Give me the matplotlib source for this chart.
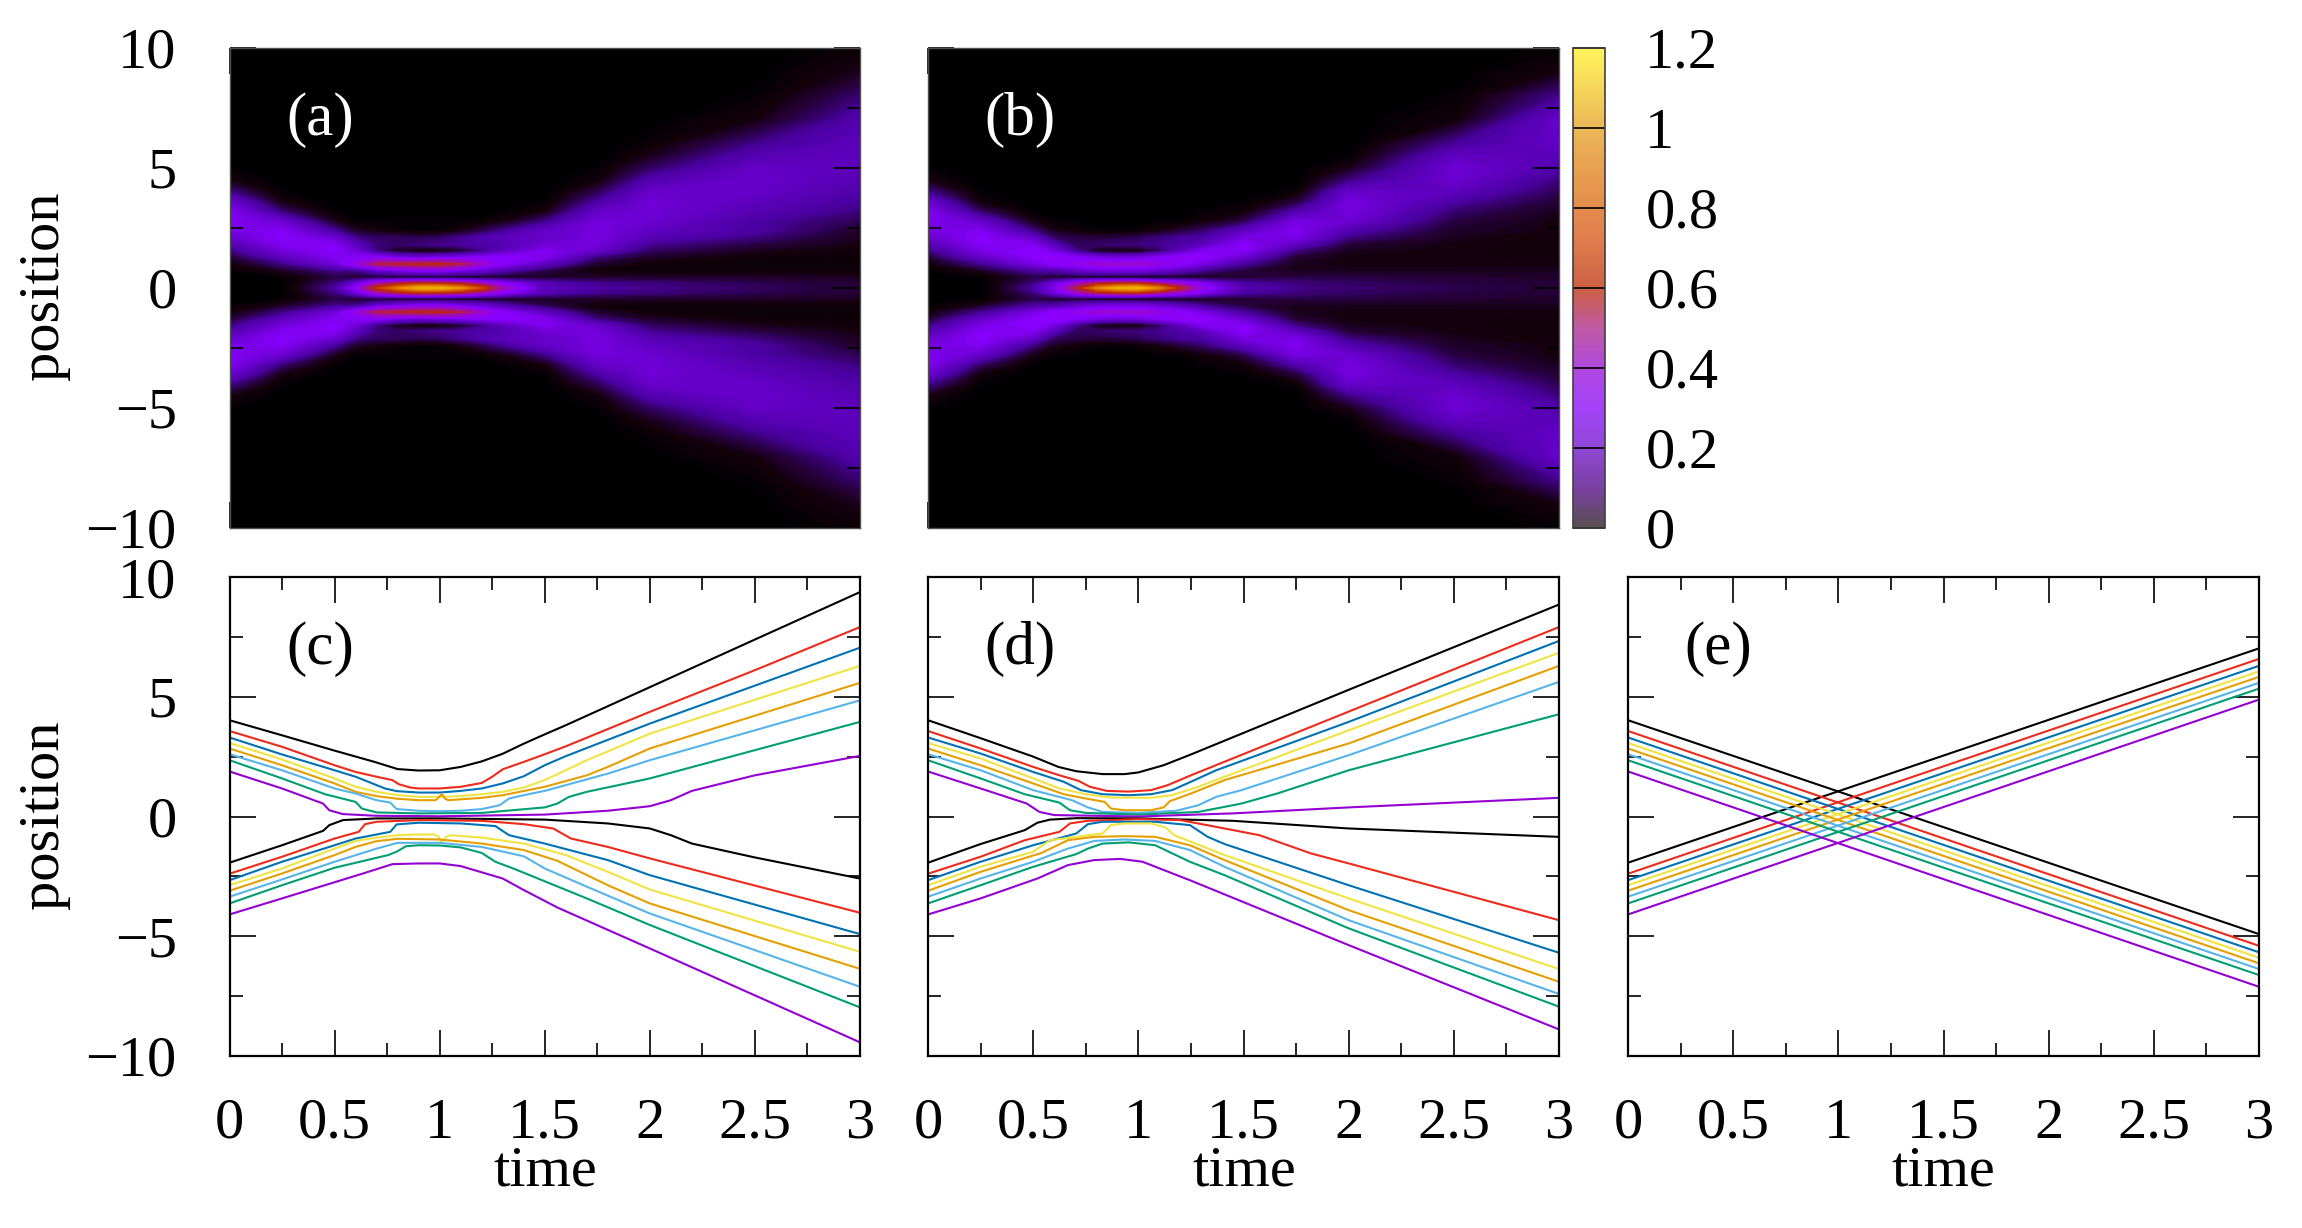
import numpy as np
import matplotlib
matplotlib.use('Agg')
import matplotlib.pyplot as plt
from matplotlib.colors import LinearSegmentedColormap, Normalize
from matplotlib.cm import ScalarMappable

plt.rcParams['font.family'] = ['Liberation Serif', 'DejaVu Serif']

# density maps, upper half only (the maps are almost symmetric)
heat_t = [0, 0.25, 0.5, 0.6, 0.7, 0.8, 0.9, 1, 1.1, 1.2, 1.3, 1.5, 1.75, 2, 2.5, 3]
heat_y = [0, 0.2, 0.45, 0.7, 1, 1.3, 1.55, 1.8, 2.1, 2.4, 2.8, 3.2, 3.6, 4, 4.5, 5, 5.5, 6, 7, 8, 9, 10]

heat_a = [
    [0, 0, 0, .01, .03, .07, .12, .17, .23, .27, .30, .30, .24, .13, .04, .01],
    [0, 0, .01, .05, .12, .20, .26, .30, .32, .31, .23, .11, .04, .01],
    [.15, .12, .08, .12, .25, .30, .32, .31, .24, .14, .05, .01],
    [.35, .25, .06, .12, .38, .32, .25, .20, .13, .06, .01],
    [.65, .45, .06, .20, .55, .30, .12, .12, .10, .04, .01],
    [.85, .55, .05, .25, .58, .25, .05, .10, .10, .02, .01],
    [1.0, .62, .04, .28, .60, .22, .03, .12, .09, .01, .01],
    [1.02, .60, .04, .30, .60, .25, .03, .13, .10, .01, .01],
    [.90, .55, .04, .25, .55, .27, .06, .14, .13, .04, .01],
    [.70, .45, .04, .22, .42, .30, .12, .16, .17, .08, .02],
    [.45, .33, .05, .16, .32, .32, .20, .17, .20, .13, .04, .01],
    [.20, .18, .06, .08, .20, .30, .30, .25, .22, .22, .12, .04, .01],
    [.15, .13, .06, .03, .06, .12, .22, .26, .27, .27, .26, .22, .15, .09, .03, .01],
    [.13, .12, .06, .03, .03, .06, .10, .13, .18, .21, .24, .25, .25, .23, .17, .10, .05, .02],
    [.10, .09, .06, .03, .02, .03, .05, .08, .12, .15, .15, .18, .20, .22, .23, .22, .18, .13, .04, .01],
    [.07, .07, .05, .03, .02, .02, .03, .04, .05, .06, .09, .12, .14, .16, .18, .19, .20, .20, .17, .11, .05, .02],
]
heat_b = [
    [0, 0, 0, .01, .03, .07, .12, .17, .23, .27, .30, .30, .24, .13, .04, .01],
    [0, 0, .01, .05, .13, .22, .28, .31, .32, .30, .22, .10, .03, .01],
    [.15, .12, .08, .14, .27, .32, .33, .30, .22, .12, .04, .01],
    [.30, .25, .06, .15, .33, .34, .27, .19, .10, .05, .01],
    [.55, .42, .05, .20, .36, .30, .14, .10, .08, .03, .01],
    [.85, .55, .04, .24, .40, .26, .05, .10, .08, .01],
    [1.0, .60, .03, .25, .42, .23, .03, .12, .08, .01],
    [1.03, .60, .03, .25, .42, .25, .03, .12, .09, .02],
    [.85, .50, .03, .22, .38, .30, .10, .13, .12, .04, .01],
    [.60, .40, .04, .18, .33, .34, .20, .16, .14, .07, .01],
    [.38, .30, .05, .13, .27, .34, .30, .20, .15, .10, .03, .01],
    [.17, .15, .07, .07, .14, .24, .31, .32, .27, .20, .08, .03, .01],
    [.13, .12, .08, .05, .05, .07, .12, .20, .28, .30, .27, .16, .07, .02],
    [.11, .10, .08, .05, .04, .04, .05, .07, .12, .17, .24, .27, .27, .23, .12, .05, .01],
    [.09, .08, .07, .05, .04, .04, .04, .04, .05, .06, .08, .11, .15, .20, .24, .25, .21, .14, .03, .01],
    [.07, .07, .06, .05, .04, .03, .03, .03, .03, .04, .04, .05, .07, .09, .12, .16, .19, .22, .23, .13, .04, .01],
]

# trajectories of panel (c), (time, position)
c_up_black = [(0, 4.02), (.25, 3.39), (.5, 2.75), (.69, 2.28), (.8, 1.98), (.9, 1.92), (1, 1.93), (1.1, 2.07), (1.2, 2.30), (1.3, 2.62), (1.4, 3.04), (1.5, 3.43), (1.6, 3.81), (2, 5.40), (2.5, 7.39), (3, 9.37)]
c_up_red = [(0, 3.57), (.25, 2.91), (.5, 2.14), (.6, 1.86), (.7, 1.66), (.775, 1.52), (.805, 1.35), (.86, 1.21), (.9, 1.17), (1, 1.17), (1.1, 1.24), (1.2, 1.40), (1.25, 1.66), (1.3, 1.97), (1.4, 2.28), (1.5, 2.60), (1.6, 2.93), (2, 4.37), (2.5, 6.11), (3, 7.91)]
c_up_blue = [(0, 3.30), (.25, 2.59), (.5, 1.93), (.6, 1.66), (.68, 1.38), (.74, 1.17), (.795, 1.06), (.9, 1.00), (1, 1.00), (1.1, 1.07), (1.2, 1.17), (1.3, 1.38), (1.4, 1.68), (1.5, 2.14), (1.6, 2.52), (2, 3.88), (3, 7.05)]
c_up_yellow = [(0, 3.07), (.25, 2.38), (.5, 1.59), (.6, 1.24), (.7, 1.03), (.8, .89), (.9, .82), (1, .82), (1.1, .85), (1.2, .93), (1.3, 1.03), (1.4, 1.21), (1.5, 1.52), (1.6, 1.93), (1.7, 2.35), (2, 3.46), (3, 6.29)]
c_up_orange = [(0, 2.84), (.25, 2.14), (.5, 1.38), (.6, 1.03), (.7, .85), (.8, .74), (.9, .68), (.98, .68), (.99, .75), (1.01, .93), (1.025, .75), (1.04, .68), (1.2, .78), (1.3, .89), (1.5, 1.24), (1.7, 1.72), (1.8, 2.07), (2, 2.84), (3, 5.58)]
c_up_sky = [(0, 2.60), (.25, 1.93), (.5, 1.17), (.6, .96), (.7, .68), (.765, .58), (.795, .31), (.9, .24), (1, .22), (1.1, .24), (1.2, .31), (1.285, .47), (1.33, .75), (1.4, .89), (1.5, 1.07), (1.8, 1.79), (2, 2.35), (3, 4.85)]
c_up_green = [(0, 2.35), (.25, 1.59), (.455, .93), (.6, .61), (.63, .33), (.7, .17), (.9, .13), (1.2, .15), (1.5, .38), (1.56, .54), (1.615, .82), (1.7, 1.03), (2, 1.59), (3, 3.95)]
c_up_purple = [(0, 1.88), (.25, 1.17), (.445, .54), (.475, .26), (.54, .10), (.7, .03), (1, .01), (1.5, .08), (1.8, .24), (2, .43), (2.1, .68), (2.2, 1.07), (2.5, 1.72), (3, 2.53)]
c_lo_black = [(0, -1.93), (.25, -1.20), (.445, -.60), (.475, -.36), (.54, -.15), (.7, -.08), (1, -.08), (1.5, -.13), (1.8, -.29), (2, -.50), (2.1, -.78), (2.2, -1.13), (2.5, -1.71), (3, -2.59)]
c_lo_red = [(0, -2.39), (.25, -1.68), (.5, -.92), (.615, -.64), (.645, -.32), (.7, -.22), (.9, -.15), (1.2, -.18), (1.4, -.32), (1.54, -.50), (1.625, -.92), (1.8, -1.27), (2, -1.75), (3, -4.02)]
c_lo_blue = [(0, -2.66), (.25, -1.89), (.5, -1.20), (.6, -.92), (.765, -.64), (.795, -.33), (.9, -.26), (1.1, -.29), (1.265, -.40), (1.33, -.78), (1.5, -1.13), (1.8, -1.82), (2, -2.45), (3, -4.91)]
c_lo_yellow = [(0, -2.87), (.25, -2.17), (.5, -1.34), (.6, -1.02), (.7, -.88), (.8, -.78), (.9, -.75), (.975, -.75), (.995, -.85), (1.01, -1.10), (1.03, -.85), (1.05, -.78), (1.2, -.88), (1.4, -1.13), (1.6, -1.61), (1.8, -2.31), (2, -3.05), (3, -5.65)]
c_lo_orange = [(0, -3.10), (.25, -2.38), (.5, -1.61), (.6, -1.27), (.7, -1.03), (.8, -.93), (1, -.96), (1.2, -1.13), (1.4, -1.40), (1.56, -1.85), (1.8, -2.87), (2, -3.63), (3, -6.36)]
c_lo_sky = [(0, -3.35), (.25, -2.63), (.5, -1.89), (.7, -1.34), (.8, -1.10), (1, -1.10), (1.2, -1.27), (1.4, -1.66), (1.5, -2.17), (1.7, -2.93), (2, -4.05), (3, -7.11)]
c_lo_green = [(0, -3.63), (.25, -2.87), (.5, -2.14), (.755, -1.61), (.795, -1.47), (.84, -1.24), (.9, -1.20), (1, -1.21), (1.1, -1.29), (1.2, -1.52), (1.265, -1.89), (1.35, -2.17), (1.7, -3.42), (2, -4.53), (3, -7.97)]
c_lo_purple = [(0, -4.09), (.25, -3.42), (.635, -2.38), (.775, -1.99), (.9, -1.96), (1, -1.96), (1.1, -2.07), (1.3, -2.59), (1.4, -3.07), (1.56, -3.80), (2, -5.51), (3, -9.43)]

# trajectories of panel (d)
d_up_black = [(0, 4.02), (.25, 3.27), (.5, 2.50), (.62, 2.07), (.705, 1.89), (.83, 1.77), (.935, 1.77), (1, 1.84), (1.12, 2.14), (1.25, 2.59), (2, 5.29), (3, 8.85)]
d_up_red = [(0, 3.57), (.25, 2.84), (.5, 2.07), (.625, 1.72), (.715, 1.49), (.77, 1.24), (.85, 1.07), (.955, 1.04), (1.06, 1.10), (1.14, 1.31), (1.25, 1.72), (2, 4.38), (3, 7.91)]
d_up_blue = [(0, 3.30), (.25, 2.63), (.5, 1.86), (.645, 1.45), (.727, 1.10), (.83, .93), (.955, .89), (1.06, .93), (1.16, 1.10), (1.25, 1.45), (1.37, 1.93), (2, 3.95), (3, 7.33)]
d_up_yellow = [(0, 3.07), (.25, 2.42), (.5, 1.59), (.625, 1.17), (.75, .93), (.87, .79), (1.06, .78), (1.16, .89), (1.285, 1.24), (1.41, 1.66), (2, 3.60), (3, 6.84)]
d_up_orange = [(0, 2.84), (.25, 2.14), (.5, 1.38), (.645, .93), (.75, .75), (.84, .61), (.87, .33), (.935, .26), (1.06, .26), (1.12, .38), (1.15, .64), (1.25, .96), (1.41, 1.52), (2, 3.05), (3, 6.29)]
d_up_sky = [(0, 2.60), (.25, 1.93), (.5, 1.10), (.685, .68), (.76, .38), (.83, .19), (1, .15), (1.18, .24), (1.285, .47), (1.37, .82), (1.49, 1.10), (2, 2.56), (3, 5.62)]
d_up_green = [(0, 2.35), (.25, 1.59), (.46, .93), (.625, .58), (.675, .26), (.75, .15), (1, .08), (1.285, .19), (1.49, .54), (1.66, .96), (2, 1.93), (3, 4.27)]
d_up_purple = [(0, 1.88), (.25, 1.17), (.47, .54), (.53, .19), (.6, .06), (1, 0), (1.45, .13), (2, .38), (3, .78)]
d_lo_black = [(0, -1.93), (.25, -1.15), (.46, -.57), (.52, -.26), (.58, -.13), (.705, -.07), (1, -.08), (1.45, -.18), (2, -.50), (3, -.85)]
d_lo_red = [(0, -2.39), (.25, -1.68), (.46, -.99), (.625, -.64), (.675, -.29), (.76, -.18), (1, -.11), (1.2, -.15), (1.41, -.50), (1.575, -.78), (1.82, -1.54), (2, -1.96), (3, -4.33)]
d_lo_blue = [(0, -2.66), (.25, -1.89), (.5, -1.20), (.705, -.71), (.76, -.32), (.83, -.22), (1.08, -.22), (1.245, -.36), (1.33, -.85), (1.41, -1.15), (2, -2.87), (3, -5.69)]
d_lo_yellow = [(0, -2.87), (.25, -2.10), (.5, -1.47), (.58, -.99), (.83, -.71), (.87, -.36), (.935, -.29), (1.06, -.29), (1.13, -.46), (1.17, -.78), (1.41, -1.61), (2, -3.42), (3, -6.37)]
d_lo_orange = [(0, -3.10), (.25, -2.31), (.54, -1.52), (.665, -.99), (.79, -.85), (.935, -.82), (1.08, -.85), (1.245, -1.20), (1.41, -1.82), (2, -3.91), (3, -6.90)]
d_lo_sky = [(0, -3.35), (.25, -2.59), (.5, -1.89), (.665, -1.34), (.79, -1.02), (.935, -.96), (1.08, -1.02), (1.245, -1.40), (1.41, -2.10), (2, -4.33), (3, -7.41)]
d_lo_green = [(0, -3.63), (.25, -2.87), (.5, -2.10), (.705, -1.57), (.76, -1.34), (.83, -1.13), (.955, -1.08), (1.08, -1.20), (1.245, -1.89), (1.41, -2.45), (2, -4.67), (3, -7.94)]
d_lo_purple = [(0, -4.09), (.25, -3.42), (.52, -2.59), (.665, -2.03), (.79, -1.82), (.915, -1.77), (1.02, -1.89), (1.245, -2.66), (2, -5.37), (3, -8.89)]

# panel (e): free straight lines, positions at time 0 and time 3
e_times = [0, 3]
e_down_start = [4.02, 3.57, 3.30, 3.07, 2.84, 2.60, 2.35, 1.88]
e_down_end = [-4.91, -5.40, -5.67, -5.90, -6.13, -6.37, -6.62, -7.11]
e_rise_start = [-1.93, -2.39, -2.66, -2.87, -3.10, -3.35, -3.63, -4.09]
e_rise_end = [7.02, 6.58, 6.29, 6.06, 5.83, 5.58, 5.34, 4.88]

line_colors = ['black', '#ee2a1c', '#0072b2', '#f0e442', '#e69f00', '#56b4e9', '#009e73', '#9400d3']

x_ticks = [0, 0.5, 1, 1.5, 2, 2.5, 3]
x_labels = ['0', '0.5', '1', '1.5', '2', '2.5', '3']
y_ticks = [-10, -5, 0, 5, 10]
y_labels = ['\u221210', '\u22125', '0', '5', '10']
cb_ticks = [0, 0.2, 0.4, 0.6, 0.8, 1, 1.2]
cb_labels = ['0', '0.2', '0.4', '0.6', '0.8', '1', '1.2']

W, H = 2302, 1228
FS = 42

# image colours differ from the washed out colour box, so two maps
image_cmap = LinearSegmentedColormap.from_list('dens', [
    (0, '#000000'), (0.03, '#14000c'), (0.07, '#2a0048'), (0.12, '#4a00a0'), (0.2, '#6a00d0'),
    (0.27, '#8a00ff'), (0.36, '#9a08c8'), (0.45, '#b01860'), (0.52, '#bc2800'), (0.62, '#d05000'),
    (0.75, '#e89000'), (0.87, '#f0b400'), (1, '#fff060')])
bar_cmap = LinearSegmentedColormap.from_list('box', [
    (0, '#585050'), (0.08, '#7a40a0'), (0.17, '#9048d8'), (0.25, '#a442fa'), (0.33, '#b048e0'),
    (0.42, '#c05aa0'), (0.5, '#cc6044'), (0.6, '#e07c4c'), (0.75, '#e8a050'), (0.85, '#ecbc58'), (1, '#fff45c')])
norm = Normalize(0, 1.2)


def make_axes(x0, x1, y0, y1):
    return fig.add_axes([x0 / W, 1 - y1 / H, (x1 - x0) / W, (y1 - y0) / H])


def style_axes(ax, bottom_labels, left_labels, spine_w, spine_c):
    ax.set_xlim(0, 3)
    ax.set_ylim(-10, 10)
    ax.set_xticks(x_ticks)
    ax.set_xticks([0.25, 0.75, 1.25, 1.75, 2.25, 2.75], minor=True)
    ax.set_yticks(y_ticks)
    ax.set_yticks([-7.5, -2.5, 2.5, 7.5], minor=True)
    ax.set_xticklabels(x_labels if bottom_labels else [])
    ax.set_yticklabels(y_labels if left_labels else [])
    ax.tick_params(which='major', direction='in', length=19, width=1.2, top=True, right=True,
                   labelsize=FS, pad=38)
    ax.tick_params(axis='x', which='major', pad=30)
    ax.tick_params(which='minor', direction='in', length=9.5, width=1.2, top=True, right=True)
    for s in ax.spines.values():
        s.set_linewidth(spine_w)
        s.set_color(spine_c)


def draw_heat(ax, columns):
    t = np.array(heat_t)
    half_y = np.array(heat_y)
    # short columns are zero further out
    half = np.array([c + [0] * (len(heat_y) - len(c)) for c in columns]).T
    y = np.concatenate([-half_y[:0:-1], half_y])
    z = np.vstack([half[:0:-1], half])
    ax.contourf(t, y, z, levels=np.linspace(0, 1.2, 161), cmap=image_cmap, norm=norm, extend='both')


def draw_curves(ax, curves):
    for curve, color in zip(curves, line_colors * 2):
        ax.plot([p[0] for p in curve], [p[1] for p in curve], color=color, lw=1.5,
                solid_joinstyle='round')


fig = plt.figure(figsize=(W / 100, H / 100), dpi=100)

ax_a = make_axes(229.5, 860, 48, 528)
ax_b = make_axes(928, 1559, 48, 528)
ax_c = make_axes(229.5, 860, 577, 1056)
ax_d = make_axes(928, 1559, 577, 1056)
ax_e = make_axes(1628, 2259, 577, 1056)

draw_heat(ax_a, heat_a)
draw_heat(ax_b, heat_b)
draw_curves(ax_c, [c_up_black, c_up_red, c_up_blue, c_up_yellow, c_up_orange, c_up_sky, c_up_green, c_up_purple,
                   c_lo_black, c_lo_red, c_lo_blue, c_lo_yellow, c_lo_orange, c_lo_sky, c_lo_green, c_lo_purple])
draw_curves(ax_d, [d_up_black, d_up_red, d_up_blue, d_up_yellow, d_up_orange, d_up_sky, d_up_green, d_up_purple,
                   d_lo_black, d_lo_red, d_lo_blue, d_lo_yellow, d_lo_orange, d_lo_sky, d_lo_green, d_lo_purple])
for i, color in enumerate(line_colors):
    ax_e.plot(e_times, [e_down_start[i], e_down_end[i]], color=color, lw=1.5)
    ax_e.plot(e_times, [e_rise_start[i], e_rise_end[i]], color=color, lw=1.5)

style_axes(ax_a, False, True, 1.0, '#505050')
style_axes(ax_b, False, False, 1.0, '#505050')
style_axes(ax_c, True, True, 1.6, 'black')
style_axes(ax_d, True, False, 1.6, 'black')
style_axes(ax_e, True, False, 1.6, 'black')

for ax, name, color in [(ax_a, '(a)', 'white'), (ax_b, '(b)', 'white'), (ax_c, '(c)', 'black'),
                        (ax_d, '(d)', 'black'), (ax_e, '(e)', 'black')]:
    ax.text(0.27, 7.0, name, color=color, fontsize=FS + 2, ha='left', va='center')

# colour box
cax = make_axes(1573, 1605, 48, 528)
cb = fig.colorbar(ScalarMappable(norm=norm, cmap=bar_cmap), cax=cax, ticks=cb_ticks)
cb.ax.set_yticklabels(cb_labels)
cb.ax.tick_params(direction='in', length=23, width=1.2, labelsize=FS, pad=29, color='black')
cb.outline.set_linewidth(1.2)
cb.outline.set_edgecolor('#404040')

for y_mid in [286, 815]:
    fig.text(44 / W, 1 - y_mid / H, 'position', rotation=90, fontsize=FS, ha='center', va='center')
for x_mid in [545, 1244, 1943]:
    fig.text(x_mid / W, 1 - 1172 / H, 'time', fontsize=FS, ha='center', va='center')

fig.savefig('out.png', dpi=100)
